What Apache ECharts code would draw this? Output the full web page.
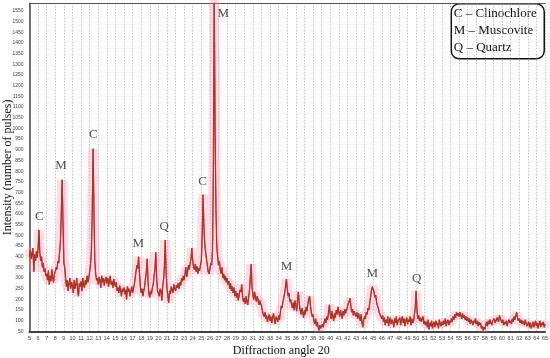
<!DOCTYPE html>
<html><head><meta charset="utf-8">
<script src="https://cdn.jsdelivr.net/npm/echarts@6/dist/echarts.min.js"></script>
<style>html,body{margin:0;padding:0;background:#fff}#c{width:550px;height:358px}</style>
</head><body><div id="c"></div>
<script>
// sampling grid of the diffractogram (degrees 2θ)
const angleStart = 5;
const angleStep = 0.1;
// intensity (number of pulses), one value per 0.1°, from 5.0° to 65.0°
const intensity = [
 400,430,390,415,440,330,410,380,425,395, // 5
 440,525,420,380,400,350,370,330,345,310, // 6
 320,290,335,270,310,285,340,300,280,320, // 7
 330,350,340,380,370,420,470,600,760,560, // 8
 370,350,300,260,290,240,275,300,250,280, // 9
 265,230,290,250,270,300,245,215,275,260, // 10
 285,240,300,265,255,290,270,310,280,300, // 11
 330,360,420,600,905,620,380,320,290,300, // 12
 270,305,290,255,310,280,300,265,290,305, // 13
 275,300,260,290,310,270,285,255,295,275, // 14
 260,280,240,255,230,265,245,215,250,235, // 15
 255,225,245,200,260,235,250,215,240,260, // 16
 230,250,270,300,330,360,345,400,320,260, // 17
 230,250,215,240,260,300,330,390,280,225, // 18
 210,240,225,255,270,310,340,420,300,240, // 19
 230,215,250,240,195,260,290,350,478,330, // 20
 250,215,185,240,225,260,245,230,270,250, // 21
 240,265,255,275,250,280,265,300,285,310, // 22
 290,320,350,305,330,360,340,370,390,440, // 23
 380,350,340,365,330,355,320,345,335,360, // 24
 380,500,690,540,460,420,390,360,330,320, // 25
 345,370,360,430,800,1650,1000,620,450,400, // 26
 360,380,340,320,350,300,320,290,310,280, // 27
 300,270,285,250,275,240,260,230,255,215, // 28
 240,210,230,195,220,245,235,270,215,190, // 29
 205,180,215,190,175,210,240,300,365,260, // 30
 220,200,235,210,190,215,200,175,195,180, // 31
 170,150,130,120,140,110,125,95,115,130,  // 32
 100,120,90,115,135,105,85,120,110,95,    // 33
 125,105,140,170,160,190,210,230,260,295, // 34
 250,215,230,190,200,175,160,185,150,195, // 35
 170,145,200,235,180,150,130,160,140,115, // 36
 150,130,165,145,180,200,215,170,140,120, // 37
 130,100,85,110,75,95,70,55,80,65,        // 38
 60,85,70,95,110,90,120,105,140,175,      // 39
 130,110,145,120,100,135,115,150,130,165, // 40
 140,120,150,130,110,145,125,155,135,150, // 41
 165,180,190,205,170,140,155,125,145,130, // 42
 120,140,110,135,115,100,130,90,70,105,   // 43
 120,110,140,130,160,150,185,210,240,260, // 44
 255,235,210,220,185,170,160,140,130,120, // 45
 110,125,95,115,80,105,90,120,75,100,     // 46
 115,85,105,95,70,110,90,120,80,100,      // 47
 95,115,80,105,120,90,110,75,100,115,     // 48
 85,105,95,120,80,110,90,100,130,160,     // 49
 240,150,110,125,100,115,95,110,120,85,   // 50
 100,80,95,70,105,60,90,75,100,65,        // 51
 85,95,70,100,80,90,65,105,85,75,         // 52
 95,80,100,85,110,75,95,105,80,100,       // 53
 90,110,95,120,105,130,115,140,125,135,   // 54
 120,140,125,110,135,115,125,105,120,100, // 55
 115,95,110,85,105,95,80,100,90,110,      // 56
 85,100,75,95,80,90,65,75,55,70,          // 57
 60,80,95,75,100,85,105,90,80,100,        // 58
 95,110,90,100,115,105,95,125,110,100,    // 59
 90,105,80,95,85,100,75,95,105,90,        // 60
 100,85,110,95,120,105,125,140,115,100,   // 61
 110,90,105,85,100,95,80,105,90,75,       // 62
 85,95,70,90,65,80,95,70,85,100,          // 63
 75,90,65,85,100,70,90,80,95,70,          // 64
 85                                       // 65
];
// phase labels above peaks
const peakNames   = ['C','M','C','M','Q','C','M','M','M','Q'];
const peakAngles  = [6.14, 8.67, 12.43, 17.66, 20.69, 25.16, 27.56, 34.93, 44.9, 50.07];
const peakHeights = [587, 825, 969, 459, 540, 751, 1538, 353, 319, 299];
// legend text
const legendLines = ['C \u2013 Clinochlore', 'M \u2013 Muscovite', 'Q \u2013 Quartz'];
const xTitle = 'Diffraction angle 20';
const yTitle = 'Intensity (number of pulses)';

const points = intensity.map((v, i) => [+(angleStart + i * angleStep).toFixed(1), v]);
const peaks = peakAngles.map((a, i) => ({ value: [a, peakHeights[i]], name: peakNames[i] }));

const chart = echarts.init(document.getElementById('c'), null, { renderer: 'canvas' });
const serif = '"Liberation Serif", "DejaVu Serif", serif';
const sans = '"Liberation Sans", Arial, sans-serif';

chart.setOption({
  animation: false,
  grid: { left: 29.5, right: 5, top: 3.3, bottom: 26.5, containLabel: false, outerBoundsMode: 'none' },
  xAxis: [{
    type: 'value', min: 5, max: 65, interval: 1,
    axisLine: { show: true, lineStyle: { color: '#444', width: 2 } },
    axisTick: { show: false },
    axisLabel: { fontSize: 5.5, color: '#444', fontFamily: sans, margin: 3.5, interval: 0 },
    splitLine: { show: true, lineStyle: { color: '#aaa', width: 1, type: [1, 2] } },
    name: xTitle, nameLocation: 'middle', nameGap: 13, nameMoveOverlap: false,
    nameTextStyle: { fontFamily: serif, fontSize: 12, color: '#111', padding: [0, 12, 0, 0] }
  }, {
    type: 'value', min: 5, max: 65, position: 'top',
    axisLine: { show: true, onZero: false, lineStyle: { color: '#555', width: 1 } },
    axisTick: { show: false }, axisLabel: { show: false }, splitLine: { show: false }
  }],
  yAxis: {
    type: 'value', min: 50, max: 1585, interval: 50,
    axisLine: { show: true, lineStyle: { color: '#444', width: 1.5 } },
    axisTick: { show: false },
    axisLabel: { fontSize: 5, color: '#444', fontFamily: sans, margin: 6, showMaxLabel: false,
      formatter: v => (v % 50 === 0 ? String(v) : '') },
    splitLine: { show: false },
    name: yTitle, nameLocation: 'middle', nameGap: 15.5, nameMoveOverlap: false,
    nameTextStyle: { fontFamily: serif, fontSize: 12, color: '#111' }
  },
  series: [
    { type: 'line', data: points, showSymbol: false, silent: true,
      lineStyle: { color: 'rgba(255,140,180,0.3)', width: 10 } },
    { type: 'line', data: points, showSymbol: false, silent: true,
      lineStyle: { color: '#e3161c', width: 1.3 } },
    { type: 'line', data: points, showSymbol: false, silent: true,
      lineStyle: { color: '#8a4a2c', width: 0.7 } },
    { type: 'scatter', data: peaks, symbolSize: 1, itemStyle: { color: 'rgba(0,0,0,0)' }, silent: true,
      label: { show: true, position: 'inside', formatter: p => p.name,
        fontFamily: serif, fontSize: 13, color: '#222' } }
  ],
  graphic: [{
    type: 'group', right: 5, top: 3,
    children: [
      { type: 'rect', shape: { x: 0, y: 0, width: 93, height: 55, r: 8 },
        style: { fill: '#fff', stroke: '#111', lineWidth: 1.5 } },
      ...legendLines.map((t, i) => ({ type: 'text', left: 2.5, top: 3 + i * 17,
        style: { text: t, font: '13px ' + serif, fill: '#111' } }))
    ]
  }]
});
</script></body></html>
